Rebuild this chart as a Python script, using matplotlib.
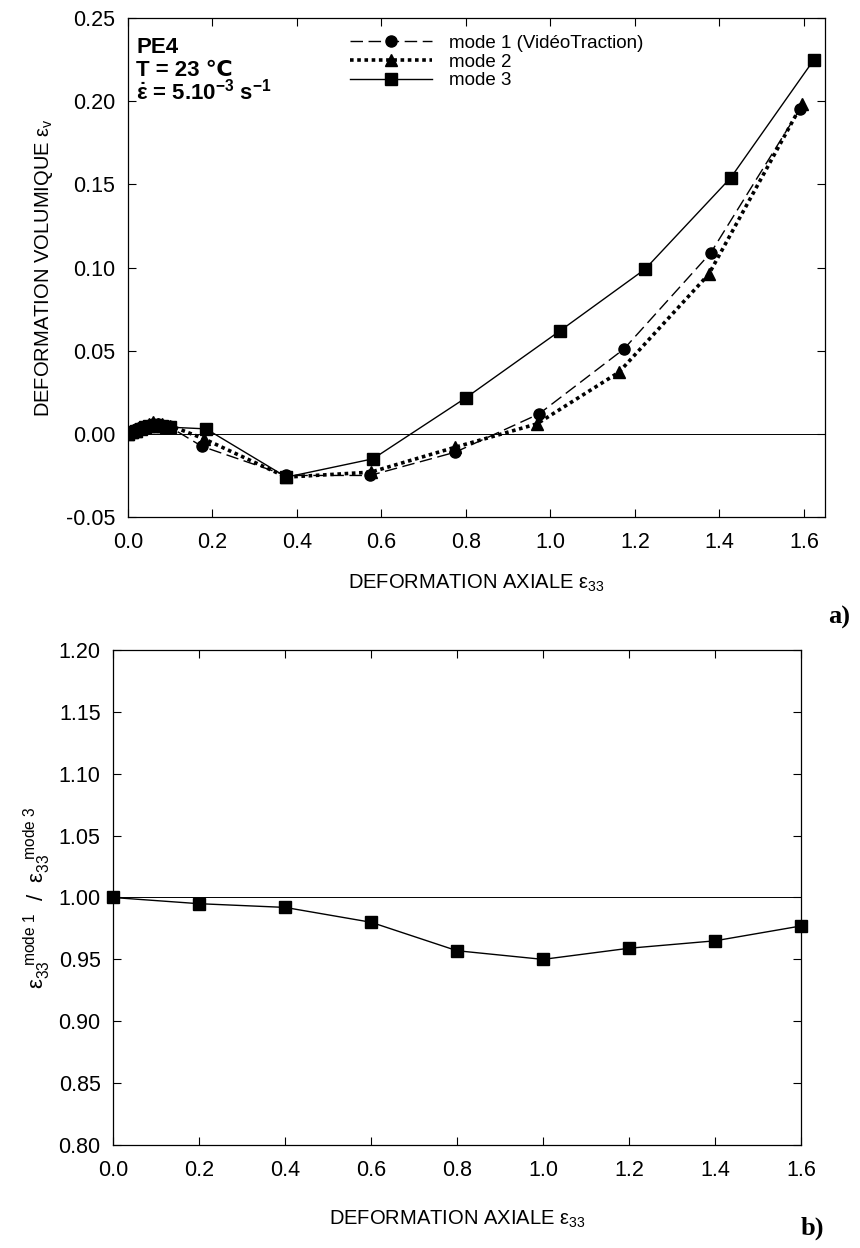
"""Volumetric strain vs axial strain for PE4, three measurement modes."""

import matplotlib

matplotlib.use("Agg")
import matplotlib.pyplot as plt

plt.rcParams["font.family"] = ["Liberation Sans", "DejaVu Sans"]
plt.rcParams["mathtext.fontset"] = "custom"
plt.rcParams["mathtext.rm"] = "Liberation Sans"
plt.rcParams["mathtext.it"] = "Liberation Sans"
plt.rcParams["mathtext.bf"] = "Liberation Sans:bold"
plt.rcParams["axes.unicode_minus"] = False

# --- panel a) : volumetric strain ---
mode1_x = [0.0, 0.01, 0.02, 0.03, 0.04, 0.05, 0.06, 0.07, 0.08, 0.09, 0.10,
           0.175, 0.375, 0.573, 0.775, 0.973, 1.174, 1.38, 1.59]
mode1_y = [0.0, 0.001, 0.003, 0.004, 0.005, 0.005, 0.006, 0.006, 0.005, 0.005, 0.004,
           -0.0075, -0.025, -0.025, -0.011, 0.012, 0.051, 0.109, 0.195]

mode2_x = [0.0, 0.01, 0.02, 0.03, 0.04, 0.05, 0.06, 0.07, 0.08, 0.09, 0.10,
           0.18, 0.375, 0.575, 0.775, 0.968, 1.162, 1.375, 1.595]
mode2_y = [0.0, 0.001, 0.002, 0.004, 0.005, 0.006, 0.007, 0.006, 0.006, 0.005, 0.005,
           -0.003, -0.026, -0.023, -0.008, 0.006, 0.037, 0.096, 0.198]

mode3_x = [0.0, 0.01, 0.02, 0.03, 0.04, 0.05, 0.06, 0.07, 0.08, 0.09, 0.10,
           0.185, 0.375, 0.58, 0.80, 1.023, 1.224, 1.427, 1.624]
mode3_y = [0.0, 0.001, 0.002, 0.003, 0.004, 0.005, 0.005, 0.005, 0.005, 0.004, 0.004,
           0.003, -0.026, -0.015, 0.0217, 0.062, 0.099, 0.154, 0.225]

# --- panel b) : strain ratio mode 1 / mode 3 ---
ratio_x = [0.0, 0.2, 0.4, 0.6, 0.8, 1.0, 1.2, 1.4, 1.6]
ratio_y = [1.000, 0.995, 0.992, 0.980, 0.957, 0.950, 0.959, 0.965, 0.977]

TICK_FS = 15.5
LABEL_FS = 14.5


def _style_axes(ax):
    ax.tick_params(direction="in", length=6, width=0.8, labelsize=TICK_FS,
                   top=True, right=True)
    ax.tick_params(axis="x", pad=11)
    ax.tick_params(axis="y", pad=9)
    for spine in ax.spines.values():
        spine.set_linewidth(0.9)


fig = plt.figure(figsize=(8.6, 12.48), dpi=100)

ax1 = fig.add_axes([0.1488, 0.5857, 0.8105, 0.3999])
ax1.axhline(0.0, color="black", lw=0.7)
ax1.plot(mode1_x, mode1_y, color="black", lw=1.0, ls=(0, (9, 4)),
         marker="o", ms=8, label="mode 1 (VidéoTraction)")
ax1.plot(mode2_x, mode2_y, color="black", lw=2.6, ls=(0, (1, 1)),
         marker="^", ms=8, label="mode 2")
ax1.plot(mode3_x, mode3_y, color="black", lw=1.0, ls="-",
         marker="s", ms=8, label="mode 3")
ax1.set_xlim(0.0, 1.65)
ax1.set_ylim(-0.05, 0.25)
ax1.set_xticks([0.0, 0.2, 0.4, 0.6, 0.8, 1.0, 1.2, 1.4, 1.6])
ax1.set_yticks([-0.05, 0.0, 0.05, 0.10, 0.15, 0.20, 0.25])
ax1.set_xticklabels([f"{v:.1f}" for v in ax1.get_xticks()])
ax1.set_yticklabels([f"{v:.2f}" for v in ax1.get_yticks()])
_style_axes(ax1)
ax1.set_xlabel(r"DEFORMATION AXIALE ε$_{33}$", fontsize=LABEL_FS, labelpad=14)
ax1.set_ylabel(r"DEFORMATION VOLUMIQUE ε$_{v}$", fontsize=LABEL_FS, labelpad=8)
ax1.legend(loc="upper left", bbox_to_anchor=(0.305, 0.985), frameon=False,
           fontsize=13.5, handlelength=4.4, labelspacing=0.08, borderpad=0,
           handletextpad=0.9)
ax1.text(0.012, 0.962, "PE4\nT = 23 ℃", transform=ax1.transAxes, fontsize=16,
         fontweight="bold", va="top", ha="left", linespacing=1.15,
         family=["Liberation Sans", "DejaVu Sans"])
ax1.text(0.012, 0.853, r"$\mathbf{\dot{ε}}$ = 5.10$^{\mathbf{-3}}$ s$^{\mathbf{-1}}$",
         transform=ax1.transAxes, fontsize=16, fontweight="bold", va="center",
         ha="left")
fig.text(0.988, 0.505, "a)", fontsize=19, fontweight="bold",
         family="Liberation Serif", ha="right", va="center")

ax2 = fig.add_axes([0.1314, 0.0825, 0.8, 0.3967])
ax2.axhline(1.0, color="black", lw=0.7)
ax2.plot(ratio_x, ratio_y, color="black", lw=1.0, marker="s", ms=8,
         clip_on=False, zorder=5)
ax2.set_xlim(0.0, 1.6)
ax2.set_ylim(0.80, 1.20)
ax2.set_xticks(ratio_x)
ax2.set_yticks([0.80, 0.85, 0.90, 0.95, 1.00, 1.05, 1.10, 1.15, 1.20])
ax2.set_xticklabels([f"{v:.1f}" for v in ax2.get_xticks()])
ax2.set_yticklabels([f"{v:.2f}" for v in ax2.get_yticks()])
_style_axes(ax2)
ax2.set_xlabel(r"DEFORMATION AXIALE ε$_{33}$", fontsize=LABEL_FS, labelpad=20)
ax2.set_ylabel(r"ε$_{33}^{\ \ \ \mathrm{mode\ 1}}$  /  ε$_{33}^{\ \ \ \mathrm{mode\ 3}}$",
               fontsize=16, labelpad=4)
fig.text(0.958, 0.016, "b)", fontsize=19, fontweight="bold",
         family="Liberation Serif", ha="right", va="center")

fig.savefig("out.png", dpi=100)
